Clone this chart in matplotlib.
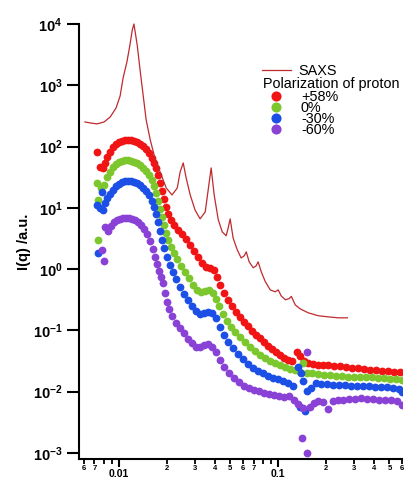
import math

import matplotlib
matplotlib.use("Agg")
import matplotlib.pyplot as plt
from matplotlib.ticker import FixedLocator, FuncFormatter

plt.rcParams["font.family"] = ["Liberation Sans", "DejaVu Sans"]
plt.rcParams["mathtext.fontset"] = "custom"
plt.rcParams["mathtext.bf"] = "Liberation Sans:bold"
plt.rcParams["mathtext.rm"] = "Liberation Sans:bold"

# ---- data (q in 1/A, I in a.u.) ----
saxs_q = [0.0061, 0.00657, 0.00727, 0.00805, 0.0088, 0.00957, 0.01015, 0.0106, 0.0112, 0.0117,
          0.0121, 0.0124, 0.0130, 0.01355, 0.01416, 0.0148, 0.0157, 0.0168, 0.0181, 0.0198,
          0.0215, 0.0232, 0.0242, 0.0253, 0.0264, 0.0280, 0.0300, 0.0323, 0.0348, 0.0363,
          0.0379, 0.0396, 0.0420, 0.0445, 0.0471, 0.0485, 0.0499, 0.0521, 0.0553, 0.0585,
          0.0611, 0.0630, 0.0657, 0.0697, 0.0727, 0.0748, 0.0783, 0.0828, 0.0891, 0.0958,
          0.100, 0.1043, 0.111, 0.1173, 0.121, 0.128, 0.1375, 0.1546, 0.1786, 0.206,
          0.238, 0.272]
saxs_I = [252, 243, 234, 252, 304, 426, 668, 1315, 2400, 4540,
          7980, 10000, 4540, 1778, 695, 272, 128, 65, 38.5, 21,
          16.2, 21, 38.5, 54, 30.7, 16.2, 9.25, 6.6, 8.6, 19.6,
          44.8, 16.2, 6.4, 4.05, 3.5, 4.7, 6.6, 3.2, 2.06, 1.52,
          1.64, 1.91, 1.31, 1.05, 1.13, 1.31, 0.90, 0.63, 0.458, 0.425,
          0.458, 0.366, 0.315, 0.33, 0.358, 0.26, 0.224, 0.193, 0.173, 0.166,
          0.16, 0.16]

p58_q = [0.00727, 0.0076, 0.00793, 0.00817, 0.0084, 0.00878, 0.00917, 0.00957, 0.0100, 0.01044,
         0.0109, 0.0114, 0.0119, 0.0124, 0.0130, 0.01355, 0.01416, 0.01479, 0.01545, 0.01614,
         0.0166, 0.0171, 0.0176, 0.0181, 0.01863, 0.0192, 0.0198, 0.0203, 0.0212, 0.0222,
         0.0235, 0.0249, 0.0264, 0.0280, 0.0296, 0.0314, 0.0333, 0.0353, 0.0373, 0.0396,
         0.0413, 0.0432, 0.0457, 0.0485, 0.0514, 0.0545, 0.0577, 0.0611, 0.0648, 0.0686,
         0.0727, 0.0771, 0.0817, 0.0865, 0.0917, 0.0971, 0.103, 0.109, 0.116, 0.122,
         0.132, 0.1375, 0.146, 0.1546, 0.166, 0.1786, 0.192, 0.206, 0.225, 0.245,
         0.268, 0.292, 0.319, 0.3475, 0.379, 0.413, 0.451, 0.492, 0.537, 0.585]
p58_I = [81.7, 46.5, 44.8, 54.0, 67.6, 81.7, 98.4, 110, 119, 123,
         128, 128, 128, 123, 119, 110, 102, 91.5, 78.6, 65.2,
         54.0, 44.8, 34.4, 25.5, 18.9, 14.0, 10.3, 7.95, 6.35, 5.26,
         4.36, 3.75, 3.11, 2.48, 1.98, 1.58, 1.26, 1.09, 1.05, 0.97,
         0.746, 0.553, 0.409, 0.315, 0.251, 0.200, 0.166, 0.138, 0.118, 0.098,
         0.0845, 0.0755, 0.0649, 0.0558, 0.0499, 0.0446, 0.0398, 0.0356, 0.0330, 0.0318,
         0.0446, 0.0384, 0.0318, 0.0295, 0.0284, 0.0274, 0.0274, 0.0274, 0.0264, 0.0264,
         0.0254, 0.0245, 0.0245, 0.0235, 0.0227, 0.0227, 0.0218, 0.0218, 0.0210, 0.0210]

p0_q = [0.00727, 0.00738, 0.00738, 0.0077, 0.00805, 0.0084, 0.00878, 0.00917, 0.00957, 0.0100,
        0.01044, 0.0109, 0.0114, 0.0119, 0.0124, 0.0130, 0.01355, 0.01416, 0.01479, 0.01545,
        0.01614, 0.0166, 0.0171, 0.0176, 0.0181, 0.01863, 0.0192, 0.0198, 0.0203, 0.0212,
        0.0222, 0.0232, 0.0245, 0.0260, 0.0276, 0.0292, 0.0310, 0.0328, 0.0348, 0.0368,
        0.0390, 0.0407, 0.0425, 0.0451, 0.0478, 0.0506, 0.0537, 0.0577, 0.0620, 0.0667,
        0.0717, 0.0771, 0.0828, 0.0891, 0.0958, 0.103, 0.1107, 0.119, 0.128, 0.1375,
        0.1436, 0.152, 0.1636, 0.1786, 0.1947, 0.2123, 0.2316, 0.2529, 0.2754, 0.3006,
        0.328, 0.3577, 0.390, 0.4256, 0.4645, 0.506, 0.552, 0.602]
p0_I = [25.5, 13.5, 3.0, 21.1, 23.6, 31.9, 38.6, 46.5, 52.0, 56.4,
        58.2, 60.4, 60.4, 58.2, 56.4, 54.0, 50.0, 44.8, 40.0, 34.4,
        28.5, 22.8, 17.5, 13.0, 9.6, 7.1, 5.26, 3.9, 3.0, 2.3,
        1.84, 1.47, 1.13, 0.90, 0.718, 0.553, 0.458, 0.425, 0.441, 0.458,
        0.409, 0.327, 0.251, 0.186, 0.143, 0.114, 0.0946, 0.0784, 0.0649, 0.0538,
        0.0463, 0.0398, 0.0356, 0.0318, 0.0295, 0.0274, 0.0254, 0.0235, 0.0227, 0.0210,
        0.0295, 0.0203, 0.0203, 0.0195, 0.0188, 0.0188, 0.0181, 0.0181, 0.0174, 0.0174,
        0.0174, 0.0174, 0.0174, 0.0168, 0.0168, 0.0162, 0.0162, 0.0156]

m30_q = [0.00727, 0.00738, 0.0076, 0.00782, 0.00793, 0.00817, 0.0084, 0.00878, 0.00917, 0.00957,
         0.0100, 0.01044, 0.0109, 0.0114, 0.0119, 0.0124, 0.0130, 0.01355, 0.01416, 0.01479,
         0.01545, 0.01614, 0.0166, 0.0171, 0.0176, 0.0181, 0.01863, 0.0192, 0.02005, 0.0210,
         0.0219, 0.0228, 0.0242, 0.0257, 0.0272, 0.0288, 0.0305, 0.0323, 0.0343, 0.0363,
         0.0385, 0.0407, 0.0432, 0.0457, 0.0485, 0.0521, 0.0560, 0.0602, 0.0648, 0.0697,
         0.0749, 0.0805, 0.0865, 0.0931, 0.100, 0.1075, 0.1156, 0.124, 0.1337, 0.1396,
         0.1375, 0.148, 0.1436, 0.152, 0.1614, 0.1735, 0.1864, 0.203, 0.2217, 0.242,
         0.264, 0.288, 0.314, 0.343, 0.3736, 0.4077, 0.4446, 0.485, 0.529, 0.577,
         0.602]
m30_I = [11.1, 1.84, 9.96, 18.2, 9.25, 12.0, 14.5, 16.9, 19.6, 22.8,
         24.5, 26.5, 27.5, 27.5, 27.5, 26.5, 25.5, 23.6, 21.1, 18.9,
         16.2, 13.0, 10.3, 7.95, 5.89, 4.2, 3.0, 2.22, 1.58, 1.17,
         0.90, 0.692, 0.513, 0.394, 0.315, 0.251, 0.208, 0.186, 0.193, 0.200,
         0.193, 0.160, 0.114, 0.0845, 0.0649, 0.0519, 0.0414, 0.0343, 0.0284, 0.0245,
         0.0218, 0.0203, 0.0181, 0.0168, 0.0162, 0.0150, 0.0139, 0.0124, 0.0254, 0.0203,
         0.00565, 0.00486, 0.0150, 0.0103, 0.0115, 0.0139, 0.0134, 0.0134, 0.0129, 0.0129,
         0.0129, 0.0124, 0.0124, 0.0124, 0.0124, 0.0120, 0.0120, 0.0120, 0.0115, 0.0111,
         0.0099]

m60_q = [0.00782, 0.00805, 0.00817, 0.00853, 0.0089, 0.0093, 0.0097, 0.01015, 0.0106, 0.01107,
         0.01156, 0.0121, 0.0126, 0.01317, 0.01375, 0.01436, 0.0150, 0.01567, 0.01637, 0.0168,
         0.01734, 0.01787, 0.01837, 0.0189, 0.01946, 0.02005, 0.02063, 0.0215, 0.0228, 0.0242,
         0.0257, 0.0272, 0.0288, 0.0305, 0.0323, 0.0343, 0.0363, 0.0385, 0.0407, 0.0432,
         0.0457, 0.0492, 0.0529, 0.0569, 0.0611, 0.0657, 0.0707, 0.076, 0.0817, 0.0878,
         0.0944, 0.1014, 0.109, 0.1173, 0.126, 0.1337, 0.1416, 0.152, 0.152, 0.1436,
         0.159, 0.1683, 0.1786, 0.192, 0.206, 0.2217, 0.238, 0.2565, 0.280, 0.305,
         0.333, 0.363, 0.3957, 0.4315, 0.471, 0.514, 0.560, 0.602]
m60_I = [2.06, 1.36, 4.88, 4.2, 5.07, 5.89, 6.35, 6.59, 6.84, 6.84,
         6.84, 6.59, 6.35, 5.89, 5.26, 4.53, 3.75, 2.88, 2.14, 1.58,
         1.22, 0.935, 0.746, 0.596, 0.409, 0.292, 0.224, 0.173, 0.133, 0.110,
         0.091, 0.0727, 0.0625, 0.0538, 0.0538, 0.058, 0.0602, 0.0538, 0.0446, 0.033,
         0.0254, 0.0203, 0.0168, 0.0145, 0.0124, 0.0115, 0.0107, 0.0103, 0.00955, 0.0092,
         0.00887, 0.00854, 0.00823, 0.00854, 0.00735, 0.00632, 0.00176, 0.0010, 0.0446, 0.00544,
         0.00565, 0.00656, 0.00708, 0.00682, 0.00524, 0.00708, 0.00735, 0.00735, 0.00763, 0.00763,
         0.00792, 0.00763, 0.00763, 0.00735, 0.00735, 0.00735, 0.00708, 0.0061]

series_labels = ["+58%", "0%", "-30%", "-60%"]
series_colors = ["#F01414", "#7CC62E", "#1B4FE6", "#8A42D6"]
series_q = [p58_q, p0_q, m30_q, m60_q]
series_I = [p58_I, p0_I, m30_I, m60_I]

minor_ticks = [0.006, 0.007, 0.008, 0.009, 0.02, 0.03, 0.04, 0.05, 0.06, 0.07, 0.08, 0.09,
               0.2, 0.3, 0.4, 0.5, 0.6]
minor_labelled = {0.006: "6", 0.007: "7", 0.02: "2", 0.03: "3", 0.04: "4", 0.05: "5",
                  0.06: "6", 0.07: "7", 0.2: "2", 0.3: "3", 0.4: "4", 0.5: "5", 0.6: "6"}

fig = plt.figure(figsize=(4.06, 4.90), dpi=100)
ax = fig.add_axes([0.1946, 0.0633, 0.7956, 0.8877])

saxs_line, = ax.plot(saxs_q, saxs_I, color="#BE2A2E", lw=0.9, clip_on=False, zorder=3)
handles = []
for q, I, c in zip(series_q, series_I, series_colors):
    h, = ax.plot(q, I, ls="none", marker="o", ms=5.6, mfc=c, mec="none", zorder=2)
    handles.append(h)

ax.set_xscale("log")
ax.set_yscale("log")
ax.set_xlim(0.0056, 0.6)
ax.set_ylim(10 ** -3.1, 1e4)

for side in ("top", "right"):
    ax.spines[side].set_visible(False)
for side in ("left", "bottom"):
    ax.spines[side].set_linewidth(1.5)

# y axis: decades only
ax.yaxis.set_major_locator(FixedLocator([1e-3, 1e-2, 1e-1, 1, 10, 100, 1e3, 1e4]))
ax.yaxis.set_minor_locator(FixedLocator([]))
ax.yaxis.set_major_formatter(FuncFormatter(
    lambda v, p: r"$\mathbf{10^{%d}}$" % round(math.log10(v))))
ax.tick_params(axis="y", which="major", length=9, width=1.5, pad=3, labelsize=10.5)

# x axis: labelled majors and partly labelled minors
ax.xaxis.set_major_locator(FixedLocator([0.01, 0.1]))
ax.xaxis.set_major_formatter(FuncFormatter(lambda v, p: "%g" % v))
ax.xaxis.set_minor_locator(FixedLocator(minor_ticks))
ax.xaxis.set_minor_formatter(FuncFormatter(
    lambda v, p: next((s for k, s in minor_labelled.items() if abs(k - v) < 1e-9), "")))
ax.tick_params(axis="x", which="major", length=6, width=1.5, pad=1.5, labelsize=7.5)
ax.tick_params(axis="x", which="minor", length=3.5, width=1.3, pad=1, labelsize=5.5)
for lab in ax.get_xticklabels(which="both"):
    lab.set_fontweight("bold")

ax.set_ylabel("I(q) /a.u.", fontsize=10.5, fontweight="bold", labelpad=1)

# legend: SAXS line, heading, then the four polarizations
leg1 = ax.legend([saxs_line], ["SAXS"], loc="center left", bbox_to_anchor=(0.566, 0.891),
                 frameon=False, fontsize=10.4, handlelength=2.0, handletextpad=0.5,
                 borderpad=0, borderaxespad=0)
ax.add_artist(leg1)
ax.text(0.570, 0.862, "Polarization of proton", transform=ax.transAxes,
        ha="left", va="center", fontsize=10.4)
ax.legend(handles, series_labels, loc="center left", bbox_to_anchor=(0.566, 0.794),
          frameon=False, fontsize=10.4, handlelength=2.0, handletextpad=0.71,
          labelspacing=-0.19, borderpad=0, borderaxespad=0, markerscale=1.3)

fig.savefig("out.png", dpi=100)
